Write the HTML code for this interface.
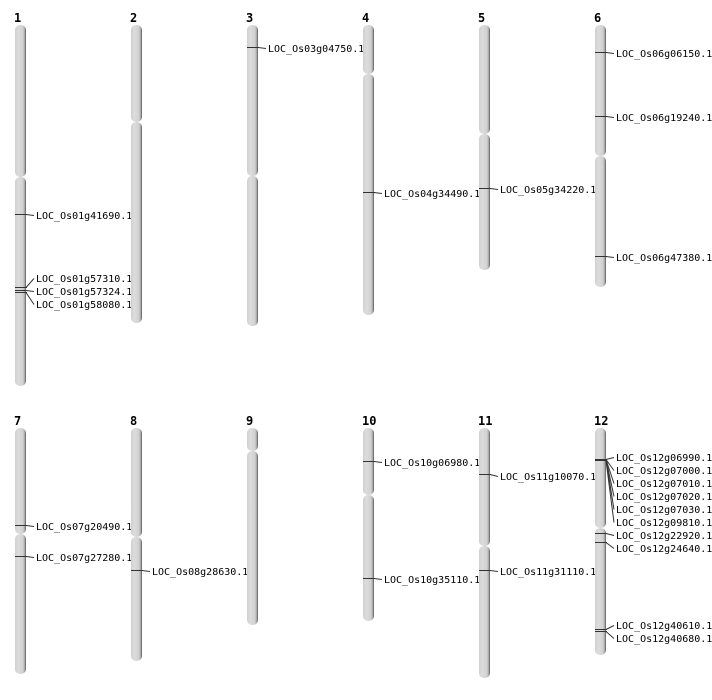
<!DOCTYPE html>
<html><head><meta charset="utf-8"><style>
html,body{margin:0;padding:0;background:#fff;}
svg{display:block;}
text{font-family:"DejaVu Sans Mono","Liberation Mono",monospace;font-size:10px;fill:#000;}
.n{font-family:"DejaVu Sans Mono","Liberation Mono",monospace;font-weight:bold;font-size:12px;}
</style></head><body>
<svg id="s" width="712" height="700" xmlns="http://www.w3.org/2000/svg">
<defs>
<linearGradient id="g" x1="0" x2="1" y1="0" y2="0">
<stop offset="0" stop-color="#cfcfcf"/>
<stop offset="0.3" stop-color="#dcdcdc"/>
<stop offset="0.7" stop-color="#d2d2d2"/>
<stop offset="0.85" stop-color="#b4b4b4"/>
<stop offset="1" stop-color="#5a5a5a"/>
</linearGradient>
</defs>
</svg>
<script>
var s=document.getElementById('s');var NS='http://www.w3.org/2000/svg';
function el(t,a,txt){var e=document.createElementNS(NS,t);for(var k in a)e.setAttribute(k,a[k]);if(txt)e.textContent=txt;s.appendChild(e);}
var C=[
['1',15,[25,177,386],[[214,[[215,'LOC_Os01g41690.1']]],[287,[[278,'LOC_Os01g57310.1']]],[290,[[291,'LOC_Os01g57324.1']]],[292,[[304,'LOC_Os01g58080.1']]]]],
['2',131,[25,122,323],[]],
['3',247,[25,176,326],[[47,[[48,'LOC_Os03g04750.1']]]]],
['4',363,[25,74,315],[[192,[[193,'LOC_Os04g34490.1']]]]],
['5',479,[25,134,270],[[188,[[189,'LOC_Os05g34220.1']]]]],
['6',595,[25,156,287],[[52,[[53,'LOC_Os06g06150.1']]],[116,[[117,'LOC_Os06g19240.1']]],[256,[[257,'LOC_Os06g47380.1']]]]],
['7',15,[428,534,674],[[525,[[526,'LOC_Os07g20490.1']]],[556,[[557,'LOC_Os07g27280.1']]]]],
['8',131,[428,537,661],[[570,[[571,'LOC_Os08g28630.1']]]]],
['9',247,[428,451,625],[]],
['10',363,[428,495,621],[[461,[[462,'LOC_Os10g06980.1']]],[578,[[579,'LOC_Os10g35110.1']]]]],
['11',479,[428,546,678],[[474,[[476,'LOC_Os11g10070.1']]],[570,[[571,'LOC_Os11g31110.1']]]]],
['12',595,[428,528,655],[[459,[[457,'LOC_Os12g06990.1'],[470,'LOC_Os12g07000.1'],[483,'LOC_Os12g07010.1'],[496,'LOC_Os12g07020.1'],[509,'LOC_Os12g07030.1']]],[460,[[522,'LOC_Os12g09810.1']]],[533,[[535,'LOC_Os12g22920.1']]],[542,[[548,'LOC_Os12g24640.1']]],[629,[[625,'LOC_Os12g40610.1']]],[631,[[638,'LOC_Os12g40680.1']]]]]
];
C.forEach(function(c){
var x=c[1],y=c[2];
el('text',{x:x-1,y:y[0]-3,'class':'n'},c[0]);
el('rect',{x:x,y:y[0],width:11,height:y[1]-y[0],rx:5,ry:5,fill:'url(#g)'});
el('rect',{x:x,y:y[1],width:11,height:y[2]-y[1],rx:5,ry:5,fill:'url(#g)'});
c[3].forEach(function(m){
el('line',{x1:x,y1:m[0]+0.5,x2:x+12,y2:m[0]+0.5,stroke:'#333','stroke-width':1});
m[1].forEach(function(l){
el('line',{x1:x+11,y1:m[0]+0.5,x2:x+19,y2:l[0]+0.5,stroke:'#333','stroke-width':1});
el('text',{x:x+21,y:l[0]+4},l[1]);
});
});
});
</script>
</body></html>
